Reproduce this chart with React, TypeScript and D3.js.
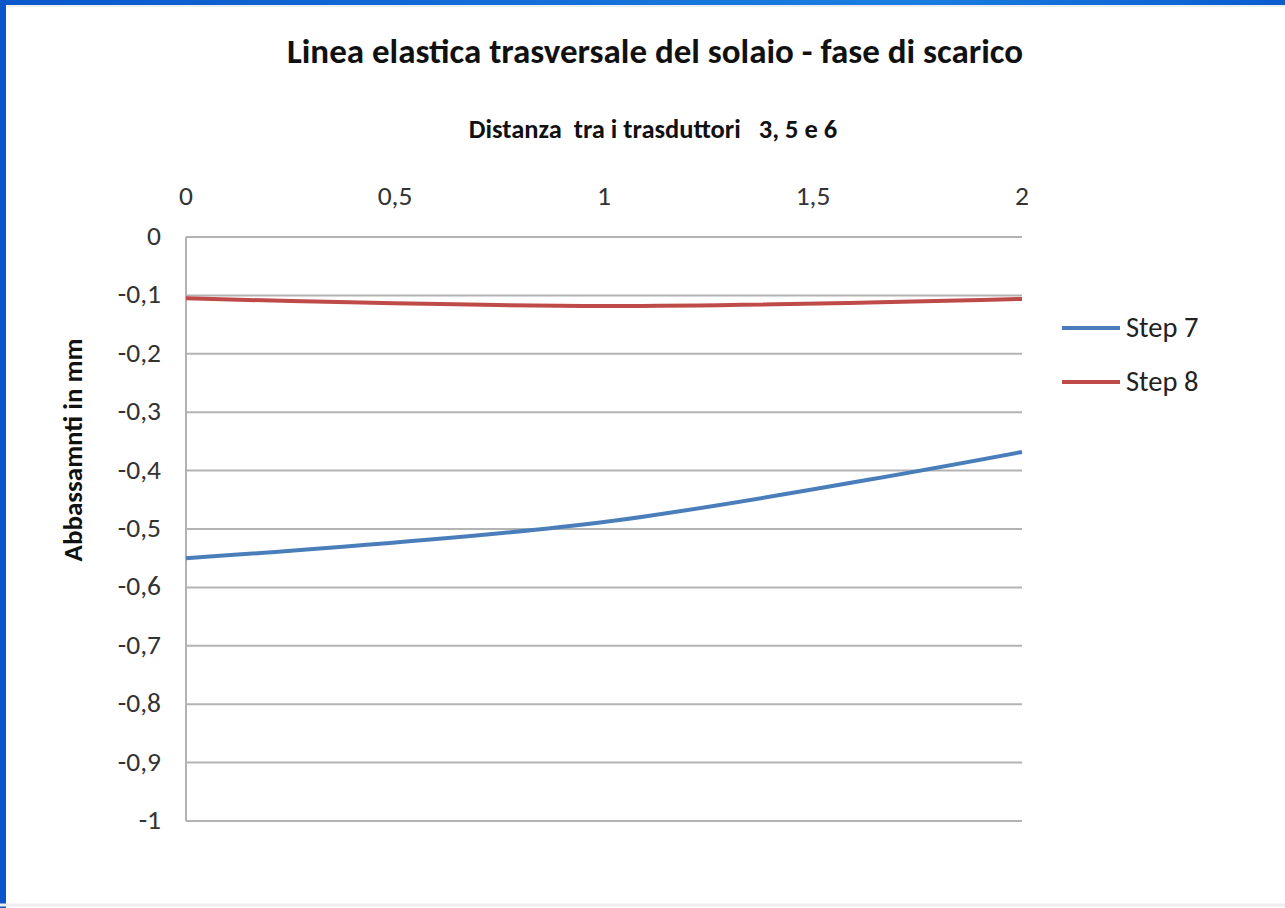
import React from "react";
import * as d3 from "d3";

const xValues = [0, 1, 2];
const step7 = [-0.55, -0.488, -0.368];
const step8 = [-0.105, -0.118, -0.106];
const seriesNames = ["Step 7", "Step 8"];
const seriesColors = ["#4a7ebb", "#be4b48"];
const xTicks = [0, 0.5, 1, 1.5, 2];
const yTicks = [0, -0.1, -0.2, -0.3, -0.4, -0.5, -0.6, -0.7, -0.8, -0.9, -1];

const W = 1285;
const H = 908;
const fmt = (v: number) => (v === 0 ? "0" : String(v).replace(".", ","));

export default function App() {
  const x = d3.scaleLinear().domain([0, 2]).range([186, 1022]);
  const y = d3.scaleLinear().domain([0, -1]).range([237, 821]);
  const line = d3
    .line<number>()
    .x((_, i) => x(xValues[i]))
    .y((d) => y(d))
    .curve(d3.curveCatmullRom.alpha(0.5));
  const series = [step7, step8];
  const font = "Calibri, Carlito, 'Open Sans', sans-serif";
  return (
    <svg
      width={W}
      height={H}
      style={{ position: "absolute", left: 0, top: 0 }}
      fontFamily={font}
    >
      <rect x={0} y={0} width={W} height={H} fill="#ffffff" />
      <defs>
        <linearGradient id="topg" x1="0" x2="1" y1="0" y2="0">
          <stop offset="0" stopColor="#0a57cc" />
          <stop offset="0.7" stopColor="#1a7ee0" />
          <stop offset="1" stopColor="#0a5ccf" />
        </linearGradient>
      </defs>
      <rect x={0} y={0} width={W} height={5} fill="url(#topg)" />
      <rect x={0} y={0} width={6} height={H} fill="#0a55c8" />
      <line x1={7} x2={W} y1={6} y2={6} stroke="#dcdcdc" />
      <line x1={0} x2={W} y1={905} y2={905} stroke="#eeeeee" strokeWidth={3} />

      <text x={655} y={63} textAnchor="middle" fontSize={35} fontWeight="bold" fill="#111">
        Linea elastica trasversale del solaio - fase di scarico
      </text>
      <text x={653} y={138} textAnchor="middle" fontSize={26.5} fontWeight="bold" fill="#111" style={{ whiteSpace: "pre" }}>
        {"Distanza  tra i trasduttori   3, 5 e 6"}
      </text>

      {yTicks.map((t) => (
        <g key={t}>
          <line x1={x(0)} x2={x(2)} y1={y(t)} y2={y(t)} stroke="#b3b3b3" strokeWidth={2} />
          <text x={161} y={y(t) + 8} textAnchor="end" fontSize={27.5} fill="#333">
            {fmt(t)}
          </text>
        </g>
      ))}
      <line x1={x(0)} x2={x(0)} y1={y(0)} y2={y(-1)} stroke="#b3b3b3" strokeWidth={2} />
      {xTicks.map((t) => (
        <text key={t} x={x(t)} y={205} textAnchor="middle" fontSize={27.5} fill="#333">
          {fmt(t)}
        </text>
      ))}

      <text
        transform={`translate(82,${450}) rotate(-90)`}
        textAnchor="middle"
        fontSize={27}
        fontWeight="bold"
        fill="#111"
      >
        Abbassamnti in mm
      </text>

      {series.map((s, i) => (
        <path key={i} d={line(s) || ""} fill="none" stroke={seriesColors[i]} strokeWidth={4} />
      ))}

      {seriesNames.map((n, i) => (
        <g key={n}>
          <line x1={1062} x2={1120} y1={328 + i * 54} y2={328 + i * 54} stroke={seriesColors[i]} strokeWidth={4} />
          <text x={1126} y={337 + i * 54} fontSize={28.5} fill="#222">
            {n}
          </text>
        </g>
      ))}
    </svg>
  );
}
